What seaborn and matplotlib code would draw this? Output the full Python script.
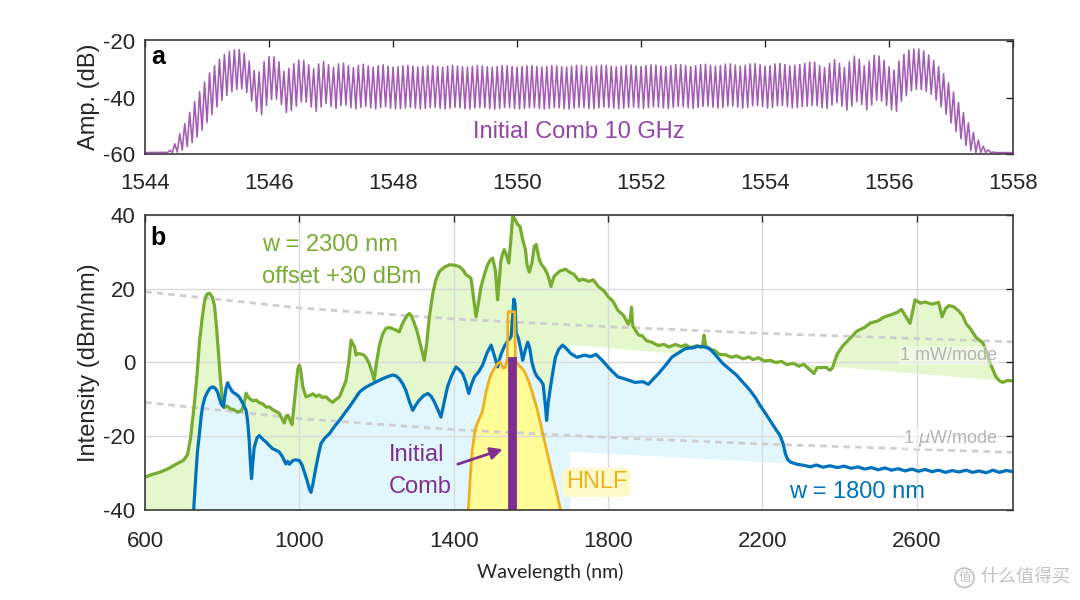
import numpy as np
import pandas as pd
import matplotlib
matplotlib.use("Agg")
import matplotlib.pyplot as plt
import seaborn as sns

# ---- panel a : 10 GHz seed comb (one peak + one trough per tooth, dB) ----
tooth_first_nm = 1544.32
tooth_step_nm = 0.08
comb_floor_db = -59.5
comb_peak_db = [
    -59.4, -58.7, -56.4, -52.8, -49.2, -45.2, -41.4, -37.8, -34.4, -31.2,
    -28.6, -26.3, -24.6, -23.5, -23.0, -22.9, -24.2, -27.0, -30.4, -30.8,
    -27.2, -25.4, -25.5, -27.2, -30.6, -29.6, -27.9, -26.6, -26.8, -28.3,
    -29.8, -28.0, -27.1, -28.3, -29.2, -28.0, -27.7, -28.6, -29.3, -28.5,
    -28.1, -28.7, -29.2, -28.6, -28.3, -28.8, -29.1,
    -29.0, -28.7, -28.5, -28.8, -29.1, -28.9, -28.6, -28.6, -28.9, -29.1,
    -28.8, -28.5, -28.7, -29.0, -29.1, -28.8, -28.6, -28.7, -29.0, -29.2,
    -28.9, -28.6, -28.6, -28.9, -29.1, -28.9, -28.7, -28.6, -28.9, -29.1,
    -28.9, -28.6, -28.7, -29.0, -29.1, -28.8, -28.5, -28.6, -28.9, -29.0,
    -28.7, -28.4, -28.5, -28.8, -29.0, -28.8, -28.5, -28.4, -28.7, -28.9,
    -28.6, -28.3, -28.4, -28.7, -28.9, -28.6, -28.2, -28.3, -28.6, -28.9,
    -28.6, -28.2, -28.1, -28.5, -28.8, -28.6, -28.1, -28.0, -28.4, -28.8,
    -28.5, -28.0, -27.9, -28.3, -28.8, -28.6, -28.0, -27.8, -28.2, -28.7,
    -28.5, -28.2, -27.8, -27.3, -27.4, -28.6, -29.3, -27.8, -26.5, -27.8,
    -29.3, -27.2, -25.2, -26.3, -28.7, -27.0, -24.9, -25.2, -26.7, -29.0,
    -30.2, -27.0, -24.6, -23.1, -22.7, -22.7, -23.4, -24.8, -26.8, -28.9,
    -31.5, -34.6, -38.0, -41.7, -45.3, -48.9, -52.3, -55.0, -57.2, -58.5,
    -59.3,
]
comb_trough_db = [
    -59.5, -59.5, -59.3, -58.6, -57.4, -56.0, -54.0, -51.5, -48.8, -46.0,
    -43.3, -41.0, -39.2, -37.9, -37.1, -36.9, -38.2, -41.2, -44.8, -46.0,
    -42.8, -40.6, -40.5, -42.4, -45.2, -44.6, -43.0, -41.5, -41.6, -43.3,
    -44.8, -43.2, -42.1, -43.1, -43.8, -42.8, -42.6, -43.5, -44.0, -43.4,
    -43.1, -43.6, -44.0, -43.5, -43.2, -43.7, -44.0,
    -43.9, -43.6, -43.4, -43.7, -44.0, -43.8, -43.5, -43.5, -43.8, -44.0,
    -43.7, -43.4, -43.6, -43.9, -44.0, -43.7, -43.5, -43.6, -43.9, -44.1,
    -43.8, -43.5, -43.5, -43.8, -44.0, -43.8, -43.6, -43.5, -43.8, -44.0,
    -43.8, -43.5, -43.6, -43.9, -44.0, -43.7, -43.4, -43.5, -43.8, -43.9,
    -43.6, -43.3, -43.4, -43.7, -43.9, -43.7, -43.4, -43.3, -43.6, -43.8,
    -43.5, -43.2, -43.3, -43.6, -43.8, -43.5, -43.1, -43.2, -43.5, -43.8,
    -43.5, -43.1, -43.0, -43.4, -43.7, -43.5, -43.0, -42.9, -43.3, -43.7,
    -43.4, -42.9, -42.8, -43.2, -43.7, -43.5, -42.9, -42.7, -43.1, -43.6,
    -43.5, -43.2, -43.0, -42.8, -42.9, -43.6, -43.8, -42.6, -41.8, -43.0,
    -44.4, -43.0, -41.4, -42.4, -44.3, -42.6, -40.9, -41.2, -42.8, -44.3,
    -44.8, -41.3, -39.3, -37.6, -37.0, -37.1, -37.8, -38.8, -40.8, -43.2,
    -45.8, -49.0, -52.0, -54.6, -57.0, -58.8, -59.4, -59.5, -59.5, -59.5,
    -59.5,
]

# ---- panel b : w = 2300 nm spectrum (already offset +30 dB) ----
green_wl = [
    600, 620, 640, 660, 680, 700, 710, 718, 728, 735, 741, 748, 754, 760, 767,
    774, 780, 785, 790, 795, 800, 805, 812, 820, 830, 840, 850, 856, 862, 868,
    879, 888, 896, 905, 914, 922, 931, 940, 948, 955, 961, 966, 970, 975, 981,
    986, 991, 996, 1000, 1004, 1009, 1017, 1026, 1035, 1044, 1052, 1060, 1069,
    1078, 1086, 1095, 1104, 1113, 1121, 1128, 1134, 1139, 1143, 1147, 1151,
    1160, 1168, 1175, 1181, 1188, 1194, 1200, 1207, 1215, 1224, 1232, 1241,
    1250, 1259, 1265, 1272, 1280, 1285, 1291, 1298, 1305, 1311, 1318, 1324,
    1330, 1337, 1346, 1354, 1363, 1375, 1389, 1402, 1415, 1425, 1432, 1440,
    1445, 1451, 1458, 1464, 1471, 1480, 1488, 1495, 1501, 1508, 1514, 1518,
    1522, 1527, 1531, 1537, 1543, 1548, 1553, 1558, 1566, 1572, 1579, 1586,
    1590, 1596, 1603, 1609, 1614, 1622, 1628, 1635, 1642, 1648, 1652, 1660,
    1675, 1690, 1700, 1712, 1725, 1735, 1750, 1762, 1775, 1790, 1800, 1813,
    1826, 1840, 1853, 1858, 1861, 1864, 1870, 1880, 1888, 1900, 1914, 1930,
    1945, 1958, 1975, 1990, 2001, 2015, 2030, 2040, 2045, 2049, 2053, 2063,
    2076, 2089, 2105, 2120, 2133, 2150, 2165, 2176, 2190, 2205, 2220, 2235,
    2250, 2264, 2280, 2295, 2308, 2320, 2334, 2342, 2352, 2365, 2375, 2382,
    2388, 2395, 2410, 2430, 2445, 2465, 2480, 2500, 2515, 2535, 2550, 2561,
    2570, 2583, 2590, 2596, 2610, 2622, 2640, 2657, 2666, 2675, 2683, 2695,
    2709, 2720, 2728, 2740, 2754, 2771, 2780, 2788, 2797, 2806, 2815, 2823,
    2835, 2850,
]
green_db = [
    -31.1, -30.3, -29.7, -28.8, -27.6, -26.5, -25.0, -20.5, -11.0, -3.0, 5.5,
    12.0, 16.5, 18.5, 18.8, 17.8, 15.5, 10.0, 3.0, -4.0, -9.5, -12.3, -11.8,
    -12.5, -12.8, -13.5, -13.0, -11.5, -8.3, -9.5, -10.4, -10.2, -10.9, -11.2,
    -12.1, -12.0, -12.8, -13.3, -13.8, -15.2, -16.4, -14.5, -14.3, -15.5,
    -16.8, -12.0, -6.6, -1.8, -0.7, -2.5, -6.6, -9.3, -9.0, -8.5, -9.2, -8.8,
    -9.5, -9.3, -10.2, -10.8, -10.0, -9.3, -7.0, -4.8, 0.0, 6.1, 5.0, 4.3,
    2.0, 2.4, 2.3, 2.0, 1.0, -0.3, -2.5, -4.8, 0.0, 4.3, 7.5, 9.2, 9.5, 9.2,
    8.8, 8.3, 10.0, 11.5, 12.8, 13.3, 12.5, 10.6, 8.5, 6.0, 3.2, 0.6, 5.0,
    12.4, 18.8, 22.5, 24.7, 25.8, 26.5, 26.4, 26.0, 25.0, 23.8, 23.3, 22.8,
    18.0, 12.4, 16.0, 20.6, 24.0, 26.5, 27.8, 28.3, 25.0, 17.0, 22.0, 27.4,
    29.5, 30.6, 29.0, 27.0, 33.0, 39.6, 39.0, 37.4, 36.9, 33.3, 30.6, 26.5,
    24.5, 27.0, 31.5, 32.0, 27.8, 26.5, 25.6, 24.2, 22.4, 20.6, 23.3, 24.8,
    25.3, 24.5, 23.9, 22.2, 22.6, 22.0, 22.4, 20.6, 19.4, 17.9, 16.6, 14.1,
    12.8, 10.4, 12.0, 15.0, 10.0, 8.9, 7.4, 7.3, 5.9, 5.5, 4.6, 4.9, 4.2,
    4.9, 4.3, 4.8, 4.0, 4.6, 4.1, 4.3, 7.4, 4.6, 3.6, 3.3, 2.2, 2.1, 1.4,
    1.8, 1.0, 1.5, 0.8, 1.3, 0.4, 0.6, 0.0, 0.3, -0.6, -0.2, -1.0, -0.5,
    -1.7, -3.0, -1.4, -1.4, -1.3, -2.1, -1.5, 0.5, 2.4, 4.7, 6.8, 8.5, 9.5,
    10.7, 11.3, 12.3, 13.0, 13.6, 14.4, 12.8, 10.6, 14.0, 17.0, 16.1, 16.4,
    15.8, 16.3, 12.4, 14.6, 15.4, 15.2, 14.0, 12.6, 10.6, 9.1, 6.8, 5.4,
    3.4, 0.6, -1.8, -3.9, -5.0, -5.4, -4.9, -5.0,
]
green_floor_wl = [1702, 2850]
green_floor_db = [4.8, -5.2]

# ---- panel b : w = 1800 nm spectrum ----
blue_wl = [
    726, 729, 732, 736, 741, 745, 749, 755, 762, 768, 775, 782, 788, 793, 797,
    803, 807, 810, 814, 820, 827, 835, 844, 853, 862, 866, 870, 873, 876, 879,
    883, 890, 896, 905, 914, 922, 931, 940, 948, 956, 965, 970, 974, 983, 991,
    1000, 1007, 1013, 1020, 1026, 1030, 1035, 1043, 1050, 1056, 1066, 1078,
    1090, 1104, 1117, 1130, 1143, 1156, 1168, 1181, 1198, 1216, 1230, 1242,
    1250, 1259, 1268, 1276, 1285, 1294, 1302, 1311, 1322, 1333, 1342, 1350,
    1359, 1367, 1375, 1384, 1395, 1406, 1415, 1423, 1431, 1439, 1446, 1454,
    1465, 1475, 1486, 1497, 1505, 1514, 1522, 1531, 1540, 1549, 1553, 1556,
    1559, 1562, 1568, 1574, 1579, 1586, 1592, 1597, 1603, 1610, 1616, 1625,
    1632, 1638, 1641, 1645, 1651, 1658, 1664, 1672, 1682, 1690, 1704, 1720,
    1739, 1755, 1769, 1785, 1800, 1813, 1826, 1848, 1870, 1890, 1905, 1918,
    1931, 1948, 1966, 1984, 2001, 2020, 2036, 2050, 2063, 2080, 2098, 2115,
    2133, 2150, 2168, 2182, 2194, 2207, 2220, 2233, 2246, 2254, 2260, 2266,
    2273, 2290, 2308, 2325, 2340, 2358, 2375, 2395, 2412, 2430, 2448, 2465,
    2483, 2500, 2518, 2535, 2552, 2570, 2588, 2605, 2622, 2640, 2657, 2675,
    2692, 2710, 2728, 2745, 2762, 2780, 2798, 2815, 2832, 2850,
]
blue_db = [
    -40.0, -35.0, -30.0, -24.0, -19.3, -15.0, -12.0, -9.5, -8.0, -7.0, -6.6,
    -7.0, -8.0, -9.8, -11.2, -12.0, -9.0, -7.0, -5.5, -6.8, -8.0, -8.5, -9.3,
    -11.0, -13.0, -16.0, -21.1, -27.0, -31.5, -27.5, -23.0, -20.5, -19.8,
    -20.8, -21.6, -22.5, -23.4, -23.8, -24.3, -25.5, -27.5, -26.8, -27.6,
    -26.6, -26.4, -26.6, -27.8, -29.7, -32.0, -34.3, -35.2, -33.0, -28.4,
    -24.8, -22.0, -20.5, -19.3, -17.5, -15.7, -13.8, -12.0, -10.0, -8.0,
    -7.0, -6.2, -5.3, -4.4, -3.8, -3.4, -3.6, -4.4, -5.8, -7.5, -10.5, -13.0,
    -11.5, -10.2, -9.0, -8.4, -9.2, -10.7, -12.8, -14.8, -11.0, -6.6, -3.5,
    -1.2, -2.0, -3.0, -5.2, -8.4, -6.0, -3.9, -2.5, -0.7, 2.5, 4.7, 2.0,
    -1.2, 2.0, 4.3, 5.8, 7.0, 13.0, 17.2, 16.0, 8.0, 6.5, 3.5, 0.6, 3.5,
    5.5, 4.0, 0.0, -2.6, -3.8, -4.8, -6.0, -12.0, -15.7, -11.0, -6.6, -2.0,
    1.5, 3.5, 4.7, 4.0, 2.4, 1.4, 2.0, 1.6, 2.2, 0.6, -1.2, -2.6, -3.9,
    -4.6, -5.4, -5.2, -5.9, -4.4, -3.0, -0.9, 1.5, 2.7, 3.8, 4.0, 4.4, 4.2,
    3.8, 1.9, -0.3, -1.8, -3.4, -5.4, -7.5, -9.5, -11.6, -13.6, -15.7,
    -17.8, -19.8, -22.0, -24.8, -26.3, -27.0, -27.6, -27.9, -28.3, -27.8,
    -28.4, -28.0, -28.5, -28.1, -28.7, -28.3, -28.9, -28.5, -29.1, -28.6,
    -29.2, -28.8, -29.4, -28.9, -29.5, -29.0, -29.6, -29.2, -29.8, -29.3,
    -29.7, -29.2, -29.8, -29.4, -29.9, -29.2, -29.8, -29.3, -29.6,
]
blue_floor_wl = [1702, 2273]
blue_floor_db = [-24.2, -27.4]

# ---- panel b : HNLF input (orange) and seed comb bar (purple) ----
hnlf_wl = [1438, 1443, 1448, 1456, 1464, 1474, 1484, 1494, 1503, 1512, 1521,
           1528, 1534, 1539, 1541, 1558, 1560, 1566, 1573, 1580, 1586, 1596,
           1607, 1616, 1625, 1638, 1651, 1664, 1677]
hnlf_db = [-40.0, -31.0, -24.0, -18.0, -15.8, -13.5, -8.0, -4.0, -2.0, -0.5,
           0.2, -1.5, -1.3, 1.0, 13.8, 13.8, 0.5, -0.5, -1.1, -2.0, -3.0,
           -5.5, -9.3, -12.5, -16.5, -22.5, -28.3, -34.0, -40.0]
seed_wl = [1544, 1544, 1558, 1558]
seed_db = [-40, 1.1, 1.1, -40]

# constant power per mode reference lines
mode_wl = [600, 1000, 1400, 1800, 2200, 2600, 2850]
mw_db = [19.2, 14.8, 11.8, 9.7, 7.9, 6.5, 5.6]
uw_db = [-10.8, -15.2, -18.2, -20.3, -22.1, -23.5, -24.4]

top_xticks = [1544, 1546, 1548, 1550, 1552, 1554, 1556, 1558]
top_yticks = [-60, -40, -20]
bot_xticks = [600, 1000, 1400, 1800, 2200, 2600]
bot_yticks = [-40, -20, 0, 20, 40]

GREEN, BLUE, ORANGE, PURPLE = "#77AC30", "#0072BD", "#EDB120", "#7E2F8E"
INK = "#262626"

sns.set_theme(style="white", rc={"axes.axisbelow": "line",
                                 "axes.unicode_minus": False})
plt.rcParams["font.family"] = ["Liberation Sans", "DejaVu Sans"]

fig = plt.figure(figsize=(10.8, 6.0), dpi=100)
ax_a = fig.add_axes([0.1343, 0.7433, 0.8037, 0.19])
ax_b = fig.add_axes([0.1343, 0.15, 0.8037, 0.4917])

# panel a
n = len(comb_peak_db)
tooth_wl = tooth_first_nm + tooth_step_nm * np.arange(n)
comb_x = np.column_stack([tooth_wl, tooth_wl + tooth_step_nm / 2]).ravel()
comb_y = np.column_stack([comb_peak_db, comb_trough_db]).ravel()
df_comb = pd.DataFrame({"wl": np.r_[1544.0, comb_x, 1558.0],
                        "db": np.r_[comb_floor_db, comb_y, comb_floor_db]})
sns.lineplot(data=df_comb, x="wl", y="db", ax=ax_a, color="#A35BB3",
             lw=1.15, sort=False, estimator=None)
ax_a.set_xlim(1544, 1558)
ax_a.set_ylim(-60, -19.5)
ax_a.set_xticks(top_xticks)
ax_a.set_yticks(top_yticks)
ax_a.set_xlabel("")
ax_a.set_ylabel("Amp. (dB)", fontsize=17, color=INK)
ax_a.yaxis.set_label_coords(-0.052, 0.5)
ax_a.text(1544.1, -25.7, "a", fontsize=18, fontweight="bold", color="black",
          ha="left", va="center")
ax_a.text(1551.0, -52.1, "Initial Comb 10 GHz", fontsize=17, color="#9444A6",
          ha="center", va="center")

# panel b : filled areas
g_poly_x = green_wl + green_floor_wl[::-1] + [green_floor_wl[0], green_wl[0]]
g_poly_y = green_db + green_floor_db[::-1] + [-40, -40]
ax_b.fill(g_poly_x, g_poly_y, color="#E4F7CD", lw=0, zorder=1.0)

b_keep = [i for i, w in enumerate(blue_wl) if w <= blue_floor_wl[1]]
b_poly_x = [blue_wl[i] for i in b_keep] + blue_floor_wl[::-1] + \
    [blue_floor_wl[0], blue_wl[0]]
b_poly_y = [blue_db[i] for i in b_keep] + blue_floor_db[::-1] + [-40, -40]
ax_b.fill(b_poly_x, b_poly_y, color="#E1F6FD", lw=0, zorder=1.1)
ax_b.fill(hnlf_wl, hnlf_db, color="#FFFB96", lw=0, zorder=1.2)

ax_b.grid(True, color="#DADADA", lw=1.0)

for ref in (mw_db, uw_db):
    ax_b.plot(mode_wl, ref, color="#CFCFCF", lw=2.0, dashes=(2.4, 1.8),
              zorder=1.8)

df_g = pd.DataFrame({"wl": green_wl, "db": green_db})
df_b = pd.DataFrame({"wl": blue_wl, "db": blue_db})
df_h = pd.DataFrame({"wl": hnlf_wl, "db": hnlf_db})
sns.lineplot(data=df_g, x="wl", y="db", ax=ax_b, color=GREEN, lw=2.3,
             sort=False, estimator=None, zorder=2.0)
sns.lineplot(data=df_b, x="wl", y="db", ax=ax_b, color=BLUE, lw=2.3,
             sort=False, estimator=None, zorder=2.1)
sns.lineplot(data=df_h, x="wl", y="db", ax=ax_b, color=ORANGE, lw=2.0,
             sort=False, estimator=None, zorder=2.2)
ax_b.fill(seed_wl, seed_db, facecolor=PURPLE, edgecolor=PURPLE, lw=2.0,
          zorder=2.4)

ax_b.set_xlim(600, 2850)
ax_b.set_ylim(-40, 40)
ax_b.set_xticks(bot_xticks)
ax_b.set_yticks(bot_yticks)
ax_b.set_ylabel("Intensity (dBm/nm)", fontsize=17, color=INK)
ax_b.yaxis.set_label_coords(-0.052, 0.5)
ax_b.set_xlabel("Wavelength (nm)", fontsize=14, color=INK,
                family=["Lato", "DejaVu Sans"])
ax_b.xaxis.set_label_coords(0.4666, -0.18)

# annotations
ax_b.text(613, 33.8, "b", fontsize=18, fontweight="bold", color="black",
          ha="left", va="center")
ax_b.text(903, 31.9, "w = 2300 nm", fontsize=17, color=GREEN, va="center")
ax_b.text(903, 23.1, "offset +30 dBm", fontsize=17, color=GREEN, va="center")
ax_b.text(1231, -25.1, "Initial", fontsize=17, color=PURPLE, va="center",
          zorder=3)
ax_b.text(1231, -33.7, "Comb", fontsize=17, color=PURPLE, va="center",
          zorder=3)
ax_b.annotate("", xy=(1534, -23.3), xytext=(1404, -27.8),
              arrowprops=dict(arrowstyle="-|>,head_length=0.6,head_width=0.3",
                              color=PURPLE, lw=2.0), zorder=3)
ax_b.text(1770, -32.5, "HNLF", fontsize=17, color=ORANGE, ha="center",
          va="center", zorder=3,
          bbox=dict(boxstyle="round,pad=0.15,rounding_size=0.3",
                    fc="#FFF9C8", ec="none"))
ax_b.text(2446, -35.0, "w = 1800 nm", fontsize=17, color=BLUE, ha="center",
          va="center", zorder=3)
ax_b.text(2809, 1.9, "1 mW/mode", fontsize=13, color="#B4B4B4", ha="right",
          va="center", zorder=3,
          bbox=dict(boxstyle="square,pad=0.05", fc="white", ec="none",
                    alpha=0.45))
ax_b.text(2809, -20.5, r"1 $\mu$W/mode", fontsize=13, color="#B4B4B4",
          ha="right", va="center", zorder=3,
          bbox=dict(boxstyle="square,pad=0.05", fc="white", ec="none",
                    alpha=0.45))

for ax in (ax_a, ax_b):
    ax.tick_params(direction="in", top=True, right=True, length=5, width=1.0,
                   color=INK, labelcolor=INK, labelsize=16)
    ax.tick_params(axis="y", pad=7)
    for s in ax.spines.values():
        s.set_visible(True)
        s.set_color("#3A3A3A")
        s.set_linewidth(1.2)
ax_a.tick_params(axis="x", pad=14)
ax_b.tick_params(axis="x", pad=15)

# watermark of the screenshot source
fig.text(0.893, 0.037, "值", fontsize=9, color="#C4C4C4", ha="center",
         va="center", family=["Noto Sans CJK SC"],
         bbox=dict(boxstyle="circle,pad=0.25", fc="none", ec="#C4C4C4", lw=1.3))
fig.text(0.908, 0.037, "什么值得买", fontsize=13, color="#C4C4C4", ha="left",
         va="center", family=["Noto Sans CJK SC"])

fig.savefig("out.png", dpi=100, facecolor="white")
